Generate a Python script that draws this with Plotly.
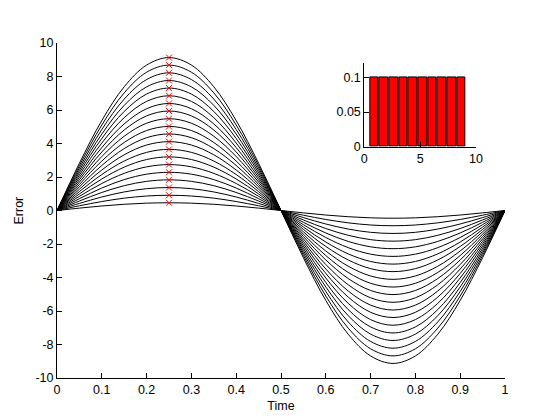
import plotly.graph_objects as go

# Amplitudes of the 20 curves (value at Time = 0.25)
amplitudes = [0.46, 0.91, 1.37, 1.83, 2.28, 2.74, 3.20, 3.65, 4.11, 4.57,
              5.02, 5.48, 5.94, 6.39, 6.85, 7.31, 7.76, 8.22, 8.68, 9.13]
# Unit waveform sampled over time
time_pts = [0, 0.05, 0.10, 0.15, 0.20, 0.25, 0.30, 0.35, 0.40, 0.45, 0.50,
            0.55, 0.60, 0.65, 0.70, 0.75, 0.80, 0.85, 0.90, 0.95, 1.0]
unit_wave = [0, 0.309, 0.588, 0.809, 0.951, 1.0, 0.951, 0.809, 0.588, 0.309, 0,
             -0.309, -0.588, -0.809, -0.951, -1.0, -0.951, -0.809, -0.588, -0.309, 0]
marker_time = 0.25

# Inset histogram (bin centres and relative frequencies)
bar_x = [0.89, 1.76, 2.63, 3.49, 4.36, 5.23, 6.10, 6.96, 7.83, 8.70]
bar_y = [0.1, 0.1, 0.1, 0.1, 0.1, 0.1, 0.1, 0.1, 0.1, 0.1]

x_ticks = [0, 0.1, 0.2, 0.3, 0.4, 0.5, 0.6, 0.7, 0.8, 0.9, 1]
x_tick_text = ["0", "0.1", "0.2", "0.3", "0.4", "0.5", "0.6", "0.7", "0.8", "0.9", "1"]
y_ticks = [-10, -8, -6, -4, -2, 0, 2, 4, 6, 8, 10]
y_tick_text = ["-10", "-8", "-6", "-4", "-2", "0", "2", "4", "6", "8", "10"]

fig = go.Figure()
for a in amplitudes:
    fig.add_trace(go.Scatter(x=time_pts, y=[a * u for u in unit_wave], mode="lines",
                             line=dict(color="black", width=1, shape="spline", smoothing=1.0),
                             showlegend=False, hoverinfo="skip"))
fig.add_trace(go.Scatter(x=[marker_time] * len(amplitudes), y=amplitudes, mode="markers",
                         marker=dict(symbol="x-thin", size=6, line=dict(color="red", width=1), color="red"),
                         showlegend=False))
fig.add_trace(go.Bar(x=bar_x, y=bar_y, width=0.78, xaxis="x2", yaxis="y2",
                     marker=dict(color="red", line=dict(color="black", width=1)),
                     showlegend=False))

font = dict(family="Liberation Sans, Arial, sans-serif", size=12.5, color="black")
axis_common = dict(showgrid=False, zeroline=False, showline=True, linecolor="black", linewidth=1,
                   ticks="inside", ticklen=5, tickcolor="black", mirror=False, tickfont=font,
                   automargin=False)

# page body has an 8px margin, so the figure is shrunk and offset accordingly
fig.update_layout(
    width=552, height=412,
    margin=dict(l=49, r=55, t=35, b=42),
    paper_bgcolor="white", plot_bgcolor="white",
    font=font,
    xaxis=dict(range=[0, 1], tickvals=x_ticks, ticktext=x_tick_text,
               title=dict(text="Time", font=font, standoff=5), **axis_common),
    yaxis=dict(range=[-10, 10], tickvals=y_ticks, ticktext=y_tick_text, **axis_common),
    xaxis2=dict(domain=[0.686, 0.935], anchor="y2", range=[0, 10], tickvals=[0, 5, 10], **axis_common),
    yaxis2=dict(domain=[0.690, 0.939], anchor="x2", range=[0, 0.12], tickvals=[0, 0.05, 0.1],
                ticktext=["0", "0.05", "0.1"], **axis_common),
    bargap=0,
    annotations=[dict(text="Error", xref="paper", yref="paper", x=0, y=0.5,
                      xanchor="center", yanchor="middle", xshift=-39, textangle=-90,
                      showarrow=False, font=font)],
)
fig.write_html("out.html")
